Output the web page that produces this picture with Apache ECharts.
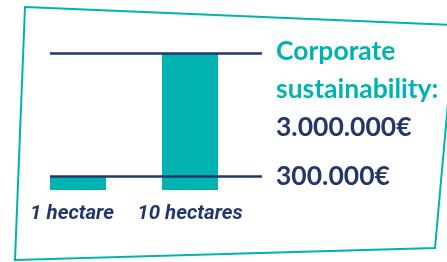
<!DOCTYPE html>
<html>
<head>
<meta charset="utf-8">
<script src="https://cdn.jsdelivr.net/npm/echarts@6/dist/echarts.min.js"></script>
<style>
html,body{margin:0;padding:0;background:#fff;}
#chart{width:447px;height:262px;}
</style>
</head>
<body>
<div id="chart"></div>
<script>
// data
var categories = ['1 hectare', '10 hectares'];
var costs = [300000, 3000000];
var lineValues = [3000000, 300000];
var lineTitles = ['Corporate\nsustainability:', ''];

var teal = '#00b3b0';
var navy = '#23376a';
var font = 'Lato, Roboto, sans-serif';

function euro(v){
    return String(v).replace(/\B(?=(\d{3})+(?!\d))/g, '.') + '€';
}

window.onload = function(){
    var myChart = echarts.init(document.getElementById('chart'));

    var lines = [];
    for (var i = 0; i < lineValues.length; i++) {
        lines.push([
            {yAxis: lineValues[i], x: 50, value: lineValues[i], name: lineTitles[i]},
            {yAxis: lineValues[i], x: 262}
        ]);
    }
    // top label block sits below its line
    lines[0][0].label = {padding: [72, 0, 0, 0]};

    var option = {
        animation: false,
        grid: {left: 22, right: 201, top: 53, bottom: 72},
        xAxis: {
            type: 'category',
            data: [
                {value: categories[0], textStyle: {padding: [0, 12, 0, 0]}},
                categories[1]
            ],
            axisLine: {show: false},
            axisTick: {show: false},
            axisLabel: {
                interval: 0,
                margin: 14,
                color: navy,
                fontFamily: 'Roboto, sans-serif',
                fontSize: 20.5,
                fontWeight: 'bold',
                fontStyle: 'italic'
            }
        },
        yAxis: {
            type: 'value',
            min: 0,
            max: 3000000,
            show: false,
            splitLine: {show: false}
        },
        graphic: [{
            type: 'polygon',
            silent: true,
            z: -1,
            shape: {points: [[25, 7], [455, 25], [435, 248], [15, 260]]},
            style: {fill: 'none', stroke: teal, lineWidth: 2}
        }],
        series: [{
            type: 'bar',
            data: costs,
            barWidth: 56,
            itemStyle: {color: teal},
            markLine: {
                silent: true,
                symbol: 'none',
                lineStyle: {color: navy, width: 2.5, type: 'solid'},
                label: {
                    position: 'end',
                    distance: 14,
                    fontFamily: font,
                    fontWeight: 'bold',
                    formatter: function(p){
                        if (p.name) {
                            return p.name.split('\n').map(function(s){ return '{t|' + s + '}'; }).join('\n') +
                                '\n{v|' + euro(p.value) + '}';
                        }
                        return '{v|' + euro(p.value) + '}';
                    },
                    rich: {
                        t: {color: teal, fontFamily: font, fontWeight: 'bold', fontSize: 26.5, lineHeight: 38},
                        v: {color: navy, fontFamily: font, fontWeight: 'bold', fontSize: 26.5, lineHeight: 38}
                    }
                },
                data: lines
            }
        }]
    };

    myChart.setOption(option);
};
</script>
</body>
</html>
